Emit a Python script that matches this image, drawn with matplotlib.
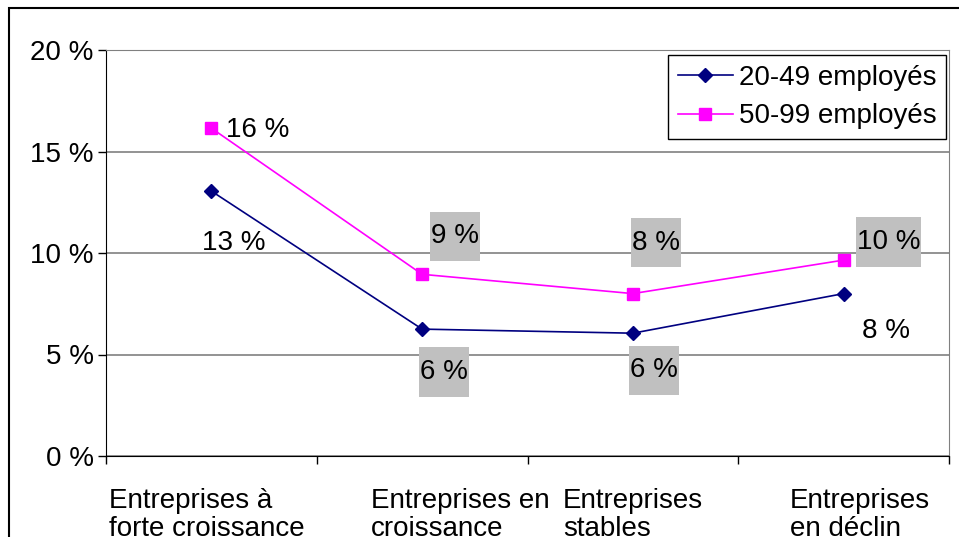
import matplotlib
matplotlib.use("Agg")
import matplotlib.pyplot as plt
from matplotlib.path import Path
from matplotlib.patches import Rectangle
from matplotlib.ticker import FixedLocator, FuncFormatter

plt.rcParams['font.family'] = ['Liberation Sans', 'DejaVu Sans']

categories = ["Entreprises à\nforte croissance", "Entreprises en\ncroissance",
              "Entreprises\nstables", "Entreprises\nen déclin"]
emp_20_49 = [13.05, 6.25, 6.05, 8.0]
emp_50_99 = [16.15, 8.95, 8.0, 9.65]
labels_20_49 = ["13 %", "6 %", "6 %", "8 %"]
labels_50_99 = ["16 %", "9 %", "8 %", "10 %"]
yticks = [0, 5, 10, 15, 20]

NAVY = "#000080"
PINK = "#FF00FF"
GREY_BOX = "#C0C0C0"


def tall_box(x0, y0, width, height, mutation_size):
    # square box, taller than the text like the excel labels
    px, py = 0.04 * mutation_size, 0.42 * mutation_size
    x0, y0 = x0 - px, y0 - py
    x1, y1 = x0 + width + 2 * px, y0 + height + 2 * py
    return Path([(x0, y0), (x1, y0), (x1, y1), (x0, y1), (x0, y0)],
                closed=True)


fig = plt.figure(figsize=(9.59, 5.37), dpi=100)
ax = fig.add_axes([106 / 959, 1 - 456 / 537, (949 - 106) / 959, (456 - 50) / 537])

x = list(range(len(categories)))
ax.plot(x, emp_20_49, color=NAVY, lw=1.2, marker="D", ms=7.5, label="20-49 employés")
ax.plot(x, emp_50_99, color=PINK, lw=1.2, marker="s", ms=8, label="50-99 employés")

ax.set_xlim(-0.5, len(categories) - 0.5)
ax.set_ylim(0, 20)
ax.yaxis.set_major_locator(FixedLocator(yticks))
ax.yaxis.set_major_formatter(FuncFormatter(lambda v, p: f"{v:.0f} %"))
ax.xaxis.set_major_locator(FixedLocator([i - 0.5 for i in range(len(categories) + 1)]))
ax.set_xticklabels([])
ax.tick_params(axis="y", length=6, width=1, pad=3, labelsize=20, direction="out")
ax.tick_params(axis="x", length=6, width=1, direction="out")
ax.grid(axis="y", color="#808080", lw=1.2)
ax.set_axisbelow(True)
ax.spines["top"].set_color("#808080")
ax.spines["right"].set_color("#808080")
ax.spines["left"].set_color("black")
ax.spines["bottom"].set_color("black")

# category labels under the axis, nudged like the original
cat_dx = [-5, 38, 0, 16]
for i, (c, dx) in enumerate(zip(categories, cat_dx)):
    ax.annotate(c, xy=(i, 0), xycoords=("data", "axes fraction"),
                xytext=(dx, -32), textcoords="offset pixels",
                ha="center", va="top", multialignment="left",
                fontsize=20, linespacing=1.12, annotation_clip=False)

# data labels (offsets in pixels from the point)
off_50_99 = [(46, -2), (33, 38), (23, 51), (45, 18)]
box_50_99 = [False, True, True, True]
off_20_49 = [(22, -52), (22, -43), (21, -37), (42, -37)]
box_20_49 = [False, True, True, False]
for vals, labs, offs, boxes in [(emp_50_99, labels_50_99, off_50_99, box_50_99),
                                 (emp_20_49, labels_20_49, off_20_49, box_20_49)]:
    for i, (v, t, o, b) in enumerate(zip(vals, labs, offs, boxes)):
        kw = {}
        if b:
            kw["bbox"] = dict(boxstyle=tall_box, fc=GREY_BOX, ec="none")
        ax.annotate(t, xy=(i, v), xytext=o, textcoords="offset pixels",
                    ha="center", va="center", fontsize=20, **kw)

leg = ax.legend(loc="upper right", bbox_to_anchor=(946 / 959, 1 - 55 / 537),
                bbox_transform=fig.transFigure, fontsize=20, frameon=True,
                fancybox=False, edgecolor="black", framealpha=1,
                handlelength=2.0, handletextpad=0.2, labelspacing=0.45,
                borderpad=0.35, borderaxespad=0)
leg.get_frame().set_linewidth(1.0)

# outer chart border (cropped on right and bottom)
fig.patches.append(Rectangle((9 / 959, -0.1), 1.2, 1.1 - 7.5 / 537,
                             transform=fig.transFigure, fill=False,
                             ec="black", lw=1.5))

fig.savefig("out.png", dpi=100)
